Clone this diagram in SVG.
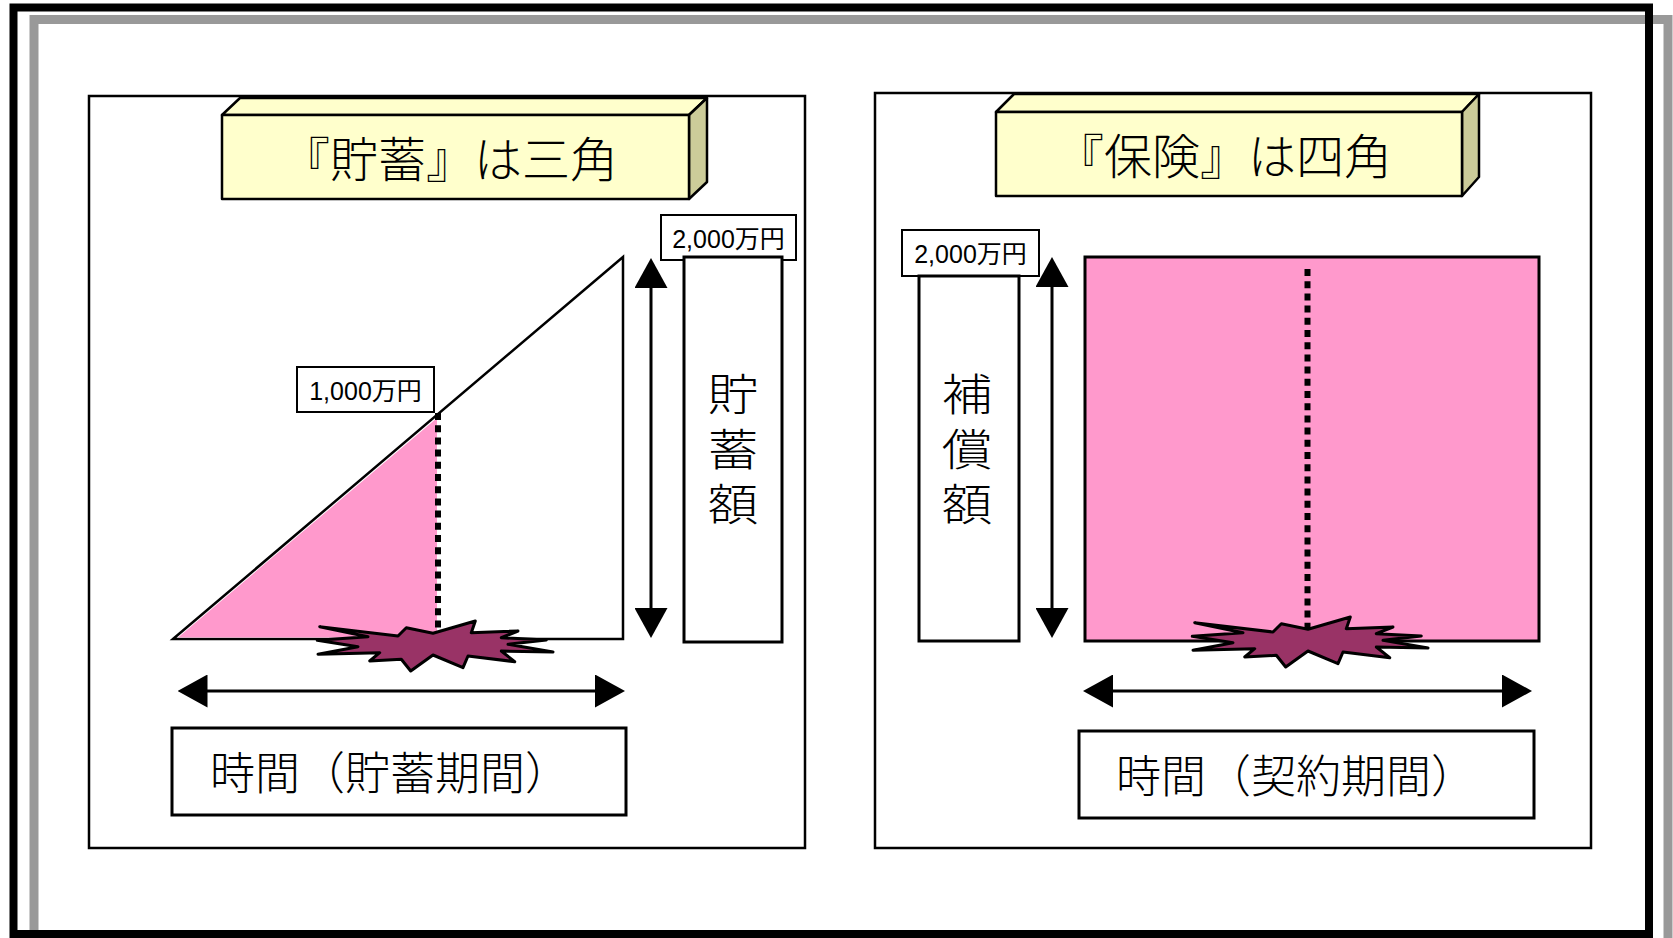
<svg xmlns="http://www.w3.org/2000/svg" width="1673" height="938" viewBox="0 0 1673 938">
<style>
.fg{fill:none;stroke:#999;stroke-width:9}
.fb{fill:none;stroke:#000;stroke-width:8}
.panel{fill:#fff;stroke:#000;stroke-width:2.5}
.front{fill:#FFFFCC;stroke:#000;stroke-width:2.5;stroke-linejoin:round}
.side{fill:#CCCC99;stroke:#000;stroke-width:2.5;stroke-linejoin:round}
.box{fill:#fff;stroke:#000;stroke-width:3}
.lbl{fill:#fff;stroke:#000;stroke-width:2}
.pink{fill:#FF99CC}
.shape{fill:#fff;stroke:#000;stroke-width:2.5}
.dot{stroke:#000;stroke-width:6;stroke-dasharray:7 5.2;fill:none}
.burst{fill:#993366;stroke:#000;stroke-width:3;stroke-linejoin:round}
.arr{stroke:#000;stroke-width:3;fill:none}
.jp{font-family:"Noto Sans CJK JP",sans-serif;font-weight:300;fill:#000}
.title{font-size:48px}
.time{font-size:45px}
.vt{font-size:44px;writing-mode:vertical-rl;letter-spacing:11px}
.num{font-family:"Liberation Sans","Noto Sans CJK JP",sans-serif;font-size:25px;text-anchor:middle;fill:#000}
</style>
<defs>
<marker id="ah" markerUnits="userSpaceOnUse" markerWidth="30" markerHeight="33" refX="10" refY="16.5" orient="auto-start-reverse" viewBox="0 0 30 33">
<path d="M0,0 L30,16.5 L0,33 Z" fill="#000"/>
</marker>
<path id="burst" d="M-113.3,-19.3 L-35,-10 L-26.7,-18.3 L0,-12.7 L42.3,-25 L38.3,-13.3 L85,-15 L68.3,-8.3 L113.3,-6 L75,-1.7 L120,6 L68.3,5 L81.7,15.7 L35,10 L30,21.7 L0,9 L-22.3,25 L-31.7,13.3 L-63.3,15 L-53.3,6.7 L-115,8.3 L-75,0.7 L-115.7,-5.7 L-65,-9.3 Z"/>
</defs>
<rect width="1673" height="938" fill="#fff"/>
<g id="frame">
<rect class="fg" x="34" y="19.5" width="1634" height="940"/>
<rect class="fb" x="13.5" y="7.5" width="1635.5" height="926.5"/>
</g>

<g id="panel-left">
<rect class="panel" x="89" y="96" width="716" height="752"/>
<g id="title-left">
<polygon class="front" points="222,115 240,98 707,98 689,115"/>
<polygon class="side" points="689,115 707,98 707,182 689,199"/>
<rect class="front" x="222" y="115" width="467" height="84"/>
<text class="jp title" x="282" y="177">『貯蓄』は三角</text>
</g>
<g id="triangle">
<polygon class="shape" points="173,639 623,257 623,639"/>
<polygon class="pink" points="178,637.5 437,418 437,637.5"/>
</g>
<g id="label-1000">
<rect class="lbl" x="297" y="367" width="137" height="45"/>
<text class="num" x="365.5" y="400">1,000万円</text>
</g>
<g id="label-2000-left">
<rect class="lbl" x="661" y="215" width="135" height="45"/>
<text class="num" x="728.5" y="248">2,000万円</text>
</g>
<g id="savings-box">
<rect class="box" x="684" y="257" width="98" height="385"/>
<g transform="translate(733,0) scale(1.15,1)">
<text class="jp vt" x="0" y="372">貯蓄額</text>
</g>
</g>
<g id="time-left">
<rect class="box" x="172" y="728" width="454" height="87"/>
<text class="jp time" x="210" y="790">時間（貯蓄期間）</text>
</g>
</g>

<g id="panel-right">
<rect class="panel" x="875" y="93" width="716" height="755"/>
<g id="title-right">
<polygon class="front" points="996,112 1014,94 1479,94 1462,112"/>
<polygon class="side" points="1462,112 1479,94 1479,177 1462,196"/>
<rect class="front" x="996" y="112" width="466" height="84"/>
<text class="jp title" x="1056" y="174">『保険』は四角</text>
</g>
<g id="rect-pink">
<rect x="1085" y="257" width="454" height="384" fill="#FF99CC" stroke="#000" stroke-width="3"/>
</g>
<g id="label-2000-right">
<rect class="lbl" x="902" y="230" width="137" height="46"/>
<text class="num" x="970.5" y="263">2,000万円</text>
</g>
<g id="comp-box">
<rect class="box" x="919" y="276" width="100" height="365"/>
<g transform="translate(967,0) scale(1.15,1)">
<text class="jp vt" x="0" y="372">補償額</text>
</g>
</g>
<g id="time-right">
<rect class="box" x="1079" y="731" width="455" height="87"/>
<text class="jp time" x="1116" y="793">時間（契約期間）</text>
</g>
</g>

<g id="connectors">
<line class="dot" x1="438" y1="413" x2="438" y2="632"/>
<line class="dot" x1="1307.5" y1="269" x2="1307.5" y2="630"/>
<line class="arr" x1="651" y1="278" x2="651" y2="618" marker-start="url(#ah)" marker-end="url(#ah)"/>
<line class="arr" x1="197.5" y1="691" x2="605" y2="691" marker-start="url(#ah)" marker-end="url(#ah)"/>
<line class="arr" x1="1052" y1="277" x2="1052" y2="618" marker-start="url(#ah)" marker-end="url(#ah)"/>
<line class="arr" x1="1103" y1="691" x2="1512" y2="691" marker-start="url(#ah)" marker-end="url(#ah)"/>
</g>

<g id="burst-left">
<use href="#burst" class="burst" transform="translate(433,646)"/>
</g>
<g id="burst-right">
<use href="#burst" class="burst" transform="translate(1308,642)"/>
</g>
</svg>
